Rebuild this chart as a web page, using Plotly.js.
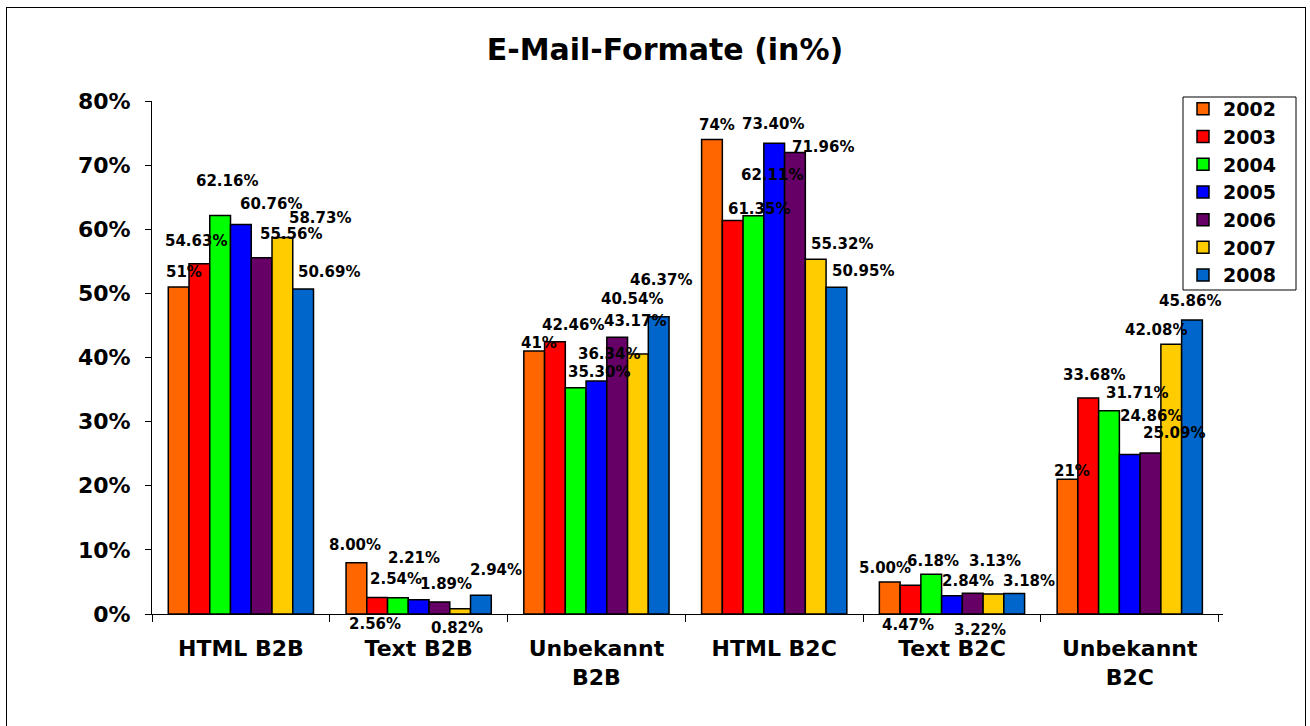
<!DOCTYPE html>
<html>
<head>
<meta charset="utf-8">
<script src="https://cdn.plot.ly/plotly-3.0.1.min.js"></script>
<style>
  html, body { margin: 0; padding: 0; background: #fff; }
  #wrap { position: relative; width: 1310px; height: 726px; overflow: hidden; }
  #chart { position: absolute; left: 0; top: 0; width: 1310px; height: 726px; }
  #frame { position: absolute; left: 6px; top: 7px; width: 1300px; height: 760px;
           border: 1.5px solid #000; box-sizing: border-box; pointer-events: none; }
</style>
</head>
<body>
<div id="wrap">
  <div id="chart"></div>
  <div id="frame"></div>
</div>
<script>
// ---- data ----
const categories = ['HTML B2B', 'Text B2B', 'Unbekannt<br>B2B', 'HTML B2C', 'Text B2C', 'Unbekannt<br>B2C'];
const years = ['2002', '2003', '2004', '2005', '2006', '2007', '2008'];
const values2002 = [51, 8.00, 41, 74, 5.00, 21];
const values2003 = [54.63, 2.56, 42.46, 61.35, 4.47, 33.68];
const values2004 = [62.16, 2.54, 35.30, 62.11, 6.18, 31.71];
const values2005 = [60.76, 2.21, 36.34, 73.40, 2.84, 24.86];
const values2006 = [55.56, 1.89, 43.17, 71.96, 3.22, 25.09];
const values2007 = [58.73, 0.82, 40.54, 55.32, 3.13, 42.08];
const values2008 = [50.69, 2.94, 46.37, 50.95, 3.18, 45.86];
const labels2002 = ['51%', '8.00%', '41%', '74%', '5.00%', '21%'];
const yTickVals = [0, 10, 20, 30, 40, 50, 60, 70, 80];
const yTickText = ['0%', '10%', '20%', '30%', '40%', '50%', '60%', '70%', '80%'];

// ---- styles ----
const colors = ['#FF6600', '#FF0000', '#00FF00', '#0000FF', '#660066', '#FFCC00', '#0066CC'];
// label placement offsets (px) relative to each bar top, as placed in the original
const labelShiftX = [
  [5, -1, 5, 5, -5, 4],
  [-3, -2, 18, 26, -2, 6],
  [7, -2, 23, 19, 2, 28],
  [30, -5, 13, -1, 16, 21],
  [29, 7, 18, 28, 7, 23],
  [38, -3, -6, 26, 2, -15],
  [26, 15, 2, 27, 15, -2]
];
const labelShiftY = [
  [15, 18, 8, 14, 14, 8],
  [23, -26, 17, 12, -40, 23],
  [34, 19, 16, 41, 13, 18],
  [20, 42, 27, 19, 15, 39],
  [24, 18, 16, 6, -37, 20],
  [19, -19, 55, 15, 33, 14],
  [17, 25, 37, 16, 13, 19]
];
const FONT = 'DejaVu Sans, Verdana, sans-serif';
const bargap = 0.183;

const series = [values2002, values2003, values2004, values2005, values2006, values2007, values2008];

const traces = series.map((vals, j) => ({
  type: 'bar',
  name: years[j],
  x: categories,
  y: vals,
  marker: { color: colors[j], line: { color: '#000', width: 1.5 } },
  hoverinfo: 'skip'
}));

const n = series.length;
const bw = (1 - bargap) / n;
const annotations = [];
series.forEach((vals, j) => {
  vals.forEach((v, i) => {
    const txt = j === 0 ? labels2002[i] : v.toFixed(2) + '%';
    annotations.push({
      x: i - (1 - bargap) / 2 + (j + 0.5) * bw,
      y: v,
      xref: 'x', yref: 'y',
      text: txt,
      showarrow: false,
      xanchor: 'center', yanchor: 'middle',
      xshift: labelShiftX[j][i],
      yshift: labelShiftY[j][i],
      font: { family: FONT, size: 15, weight: 'bold', color: '#000' }
    });
  });
});

// legend box geometry (paper fractions of the plot area)
const plotL = 152, plotW = 1071, plotB = 614, plotH = 513;
const legBox = { left: 1183, right: 1296, top: 97, bottom: 290 };

const layout = {
  width: 1310, height: 726,
  margin: { l: 152, r: 87, t: 101, b: 112, pad: 0 },
  paper_bgcolor: 'rgba(0,0,0,0)',
  plot_bgcolor: 'rgba(0,0,0,0)',
  barmode: 'group',
  bargap: bargap,
  bargroupgap: 0,
  showlegend: true,
  title: {
    text: 'E-Mail-Formate (in%)',
    x: 665 / 1310, xanchor: 'center', xref: 'container',
    y: 1 - 49 / 726, yanchor: 'middle', yref: 'container',
    font: { family: FONT, size: 30, weight: 'bold', color: '#000' }
  },
  xaxis: {
    type: 'category',
    showline: true, linecolor: '#000', linewidth: 1,
    ticks: 'outside', tickson: 'boundaries', ticklen: 7, tickcolor: '#000', tickwidth: 1,
    showgrid: false, zeroline: false,
    tickfont: { family: FONT, size: 22, weight: 'bold', color: '#000' },
    ticklabelstandoff: 15,
    fixedrange: true
  },
  yaxis: {
    range: [0, 80],
    tickvals: yTickVals, ticktext: yTickText,
    showline: true, linecolor: '#000', linewidth: 1,
    ticks: 'outside', ticklen: 6, tickcolor: '#000', tickwidth: 1,
    showgrid: false, zeroline: false,
    tickfont: { family: FONT, size: 22, weight: 'bold', color: '#000' },
    ticklabelstandoff: 10,
    fixedrange: true
  },
  legend: {
    x: (legBox.left - plotL) / plotW, xanchor: 'left',
    y: (plotB - legBox.top + 7) / plotH, yanchor: 'top',
    bgcolor: 'rgba(0,0,0,0)', borderwidth: 0,
    font: { family: FONT, size: 19, weight: 'bold', color: '#000' },
    tracegroupgap: 0
  },
  shapes: [{
    type: 'rect', xref: 'paper', yref: 'paper', layer: 'above',
    x0: (legBox.left - plotL) / plotW, x1: (legBox.right - plotL) / plotW,
    y0: (plotB - legBox.bottom) / plotH, y1: (plotB - legBox.top) / plotH,
    fillcolor: '#fff', line: { color: '#000', width: 1 }
  }],
  annotations: annotations
};

Plotly.newPlot('chart', traces, layout, { displayModeBar: false, staticPlot: true });
</script>
</body>
</html>
